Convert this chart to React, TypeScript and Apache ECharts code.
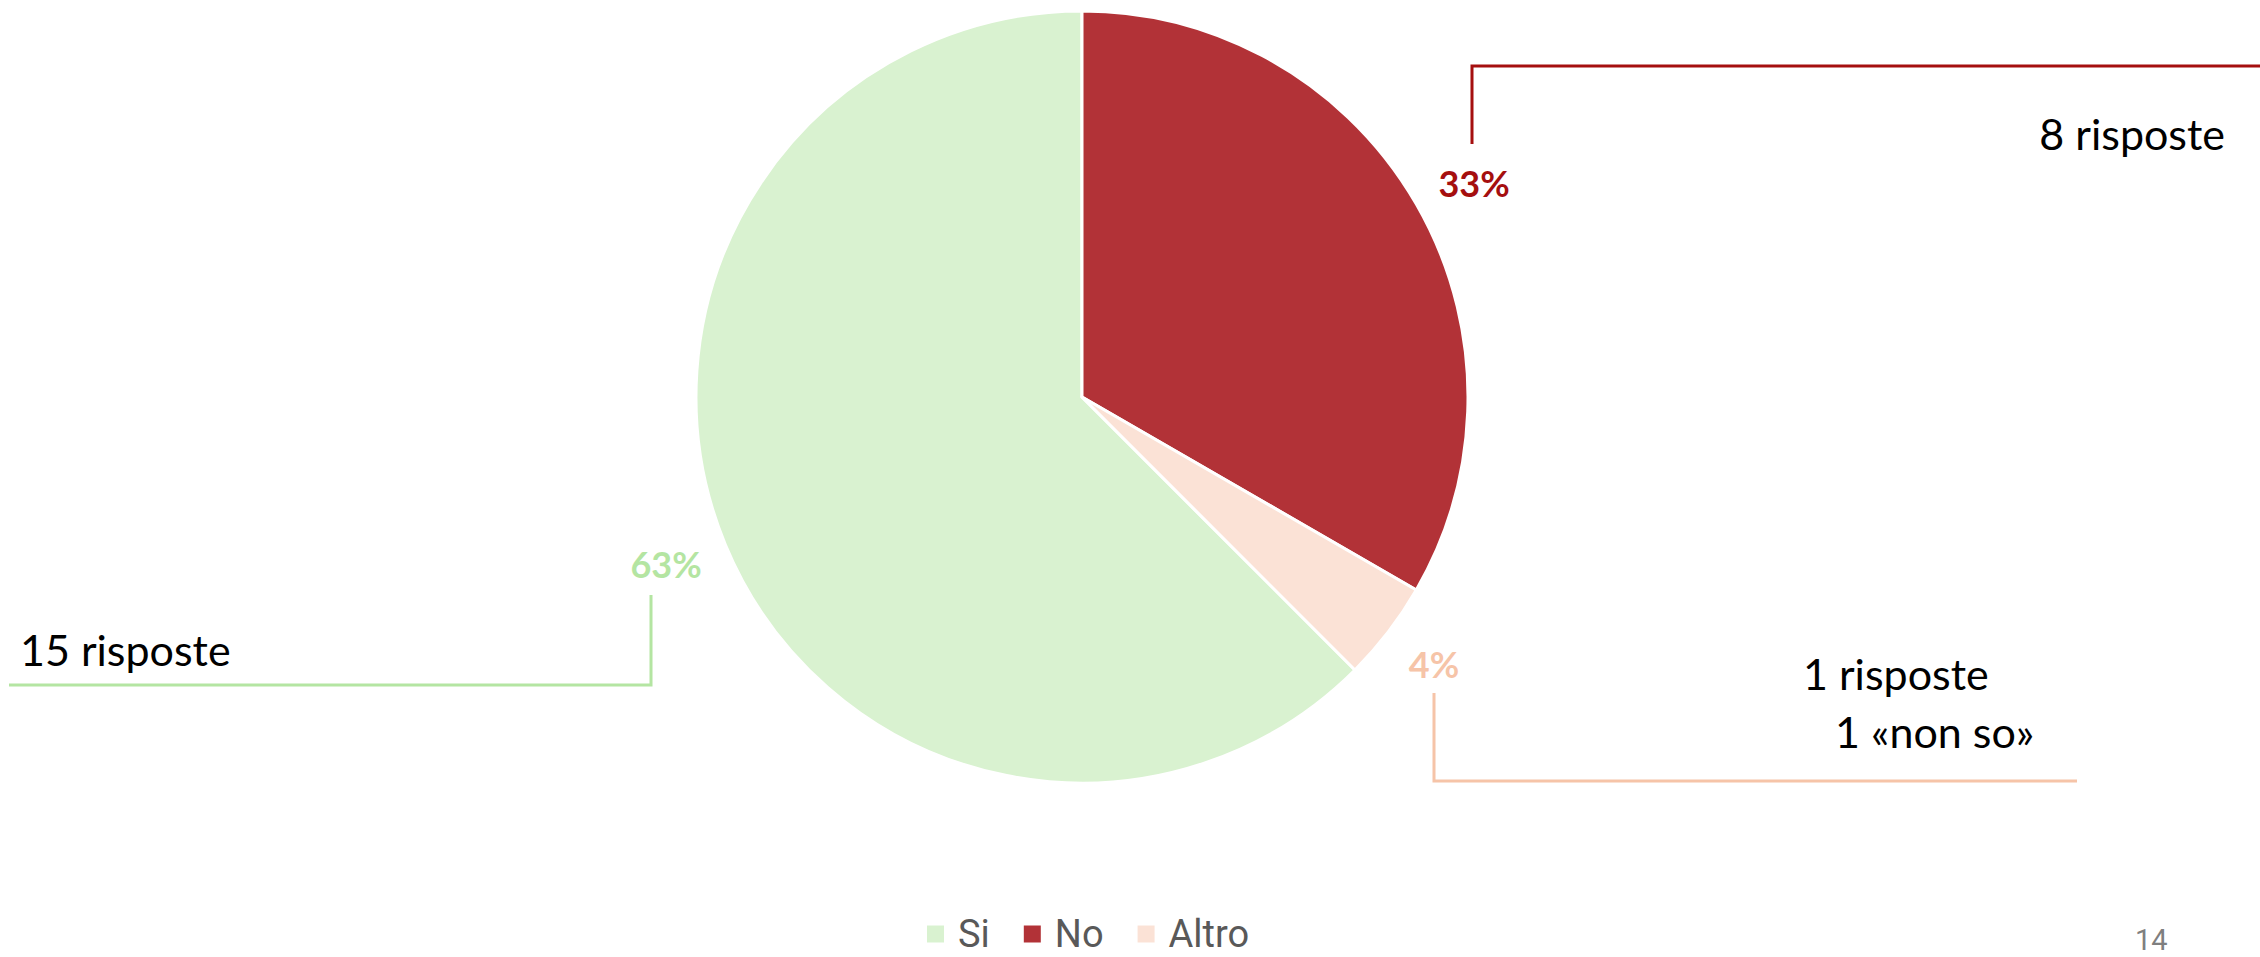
import React, { useEffect, useRef } from "react";
import * as echarts from "echarts";

const categories = ["Si", "No", "Altro"];
const values = [15, 8, 1];
const sliceColors = ["#D9F2D0", "#B23237", "#FBE2D6"];
const labelColors = ["#B4E5A2", "#A50F0F", "#F6C4A8"];
const calloutLines = [["15 risposte"], ["8 risposte"], ["1 risposte", "1 «non so»"]];
const pageNumber = "14";

export default function App() {
  const ref = useRef<HTMLDivElement>(null);
  useEffect(() => {
    if (!ref.current) return;
    const chart = echarts.init(ref.current, null, { renderer: "svg" });
    const labelPos = [
      { x: 666, y: 564 },
      { x: 1474, y: 183 },
      { x: 1434, y: 664 },
    ];
    const linePts = [
      [[651, 595], [651, 685], [9, 685]],
      [[1472, 144], [1472, 66], [2260, 66]],
      [[1434, 693], [1434, 781], [2077, 781]],
    ];
    const textPos = [
      [{ x: 20, y: 649, align: "left" }],
      [{ x: 2225, y: 133, align: "right" }],
      [
        { x: 1803, y: 673, align: "left" },
        { x: 1835, y: 731, align: "left" },
      ],
    ];
    const graphics: any[] = [];
    linePts.forEach((pts, i) => {
      graphics.push({
        type: "polyline",
        shape: { points: pts },
        style: { stroke: labelColors[i], lineWidth: 3, fill: "none" },
        silent: true,
      });
    });
    calloutLines.forEach((lines, i) => {
      lines.forEach((t, j) => {
        const p = textPos[i][j];
        graphics.push({
          type: "text",
          x: p.x,
          y: p.y,
          style: {
            text: t,
            fontFamily: "Lato",
            fontSize: 43,
            fill: "#000000",
            align: p.align,
            verticalAlign: "middle",
          },
          silent: true,
        });
      });
    });
    graphics.push({
      type: "text",
      x: 2135,
      y: 940,
      style: {
        text: pageNumber,
        fontFamily: "Roboto",
        fontSize: 29,
        fill: "#7F7F7F",
        align: "left",
        verticalAlign: "middle",
      },
      silent: true,
    });

    chart.setOption({
      animation: false,
      legend: {
        left: 925,
        top: 914,
        padding: 0,
        itemWidth: 19,
        itemHeight: 19,
        itemGap: 32,
        icon: "rect",
        selectedMode: false,
        textStyle: {
          fontFamily: "Roboto",
          fontSize: 38,
          lineHeight: 40,
          color: "#595959",
          padding: [0, 0, 0, 8],
        },
        data: categories,
      },
      series: [
        {
          type: "pie",
          center: [1082, 397],
          radius: 386,
          startAngle: 315,
          clockwise: true,
          avoidLabelOverlap: false,
          percentPrecision: 0,
          itemStyle: { borderColor: "#ffffff", borderWidth: 3 },
          emphasis: { disabled: true },
          label: {
            show: true,
            position: "outside",
            formatter: "{d}%",
            fontFamily: "Lato",
            fontWeight: "bold",
            fontSize: 36,
          },
          labelLine: { show: false },
          labelLayout: (params: any) => ({
            x: labelPos[params.dataIndex].x,
            y: labelPos[params.dataIndex].y,
            align: "center",
            verticalAlign: "middle",
          }),
          data: categories.map((c, i) => ({
            name: c,
            value: values[i],
            itemStyle: { color: sliceColors[i] },
            label: { color: labelColors[i] },
          })),
        },
      ],
      graphic: graphics,
    });
    return () => chart.dispose();
  }, []);
  return (
    <div
      ref={ref}
      style={{ position: "fixed", left: 0, top: 0, width: 2260, height: 957, background: "#ffffff" }}
    />
  );
}
